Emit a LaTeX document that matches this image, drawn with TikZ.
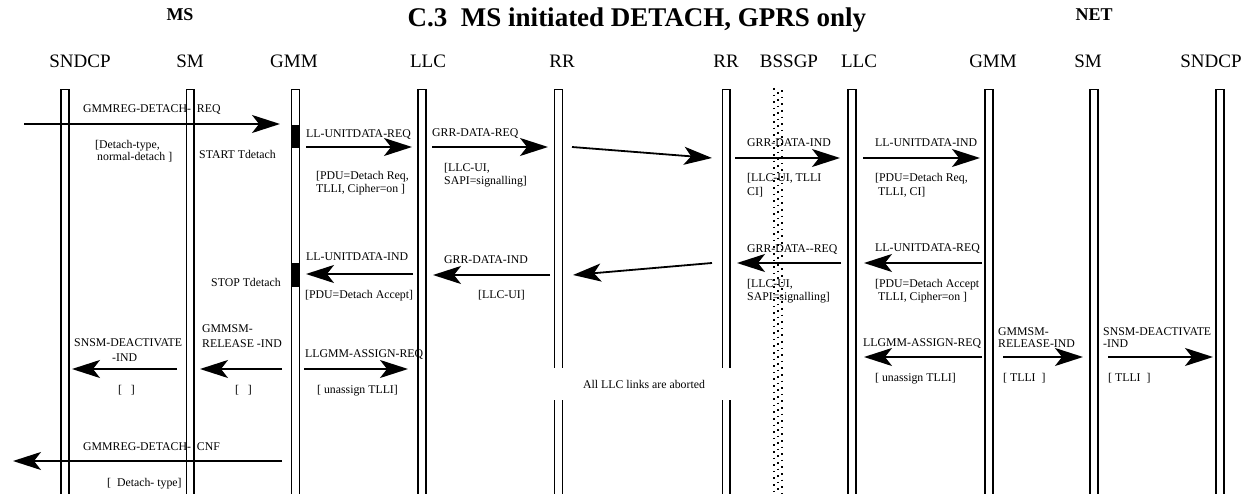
\documentclass[tikz,border=0pt]{standalone}
\usepackage{fontspec}
\setmainfont{Liberation Serif}
\usetikzlibrary{arrows.meta}
\begin{document}
\begin{tikzpicture}[x=1pt,y=-1pt,
  lifebox/.style={line width=1.5pt},
  msg/.style={line width=1.8pt,-{Stealth[length=28pt,width=18pt,inset=7pt]}},
  lbl/.style={font=\fontsize{11.8}{13}\selectfont,inner sep=0pt,anchor=base west},
  hdr/.style={font=\fontsize{19}{22}\selectfont,inner sep=0pt,anchor=base},
  ttl/.style={font=\bfseries\fontsize{27}{30}\selectfont,inner sep=0pt,anchor=base},
  side/.style={font=\bfseries\fontsize{18}{20}\selectfont,inner sep=0pt,anchor=base},
  timer/.style={fill=black,draw=none,minimum width=9pt,inner sep=0pt},
  bss/.style={line width=1.6pt,dash pattern=on 1.6pt off 5pt}]
\useasboundingbox (0,0) rectangle (1245,494);

% titles
\node[ttl] (title) at (637,27) {C.3\ \ MS initiated DETACH, GPRS only};
\node[side] (ms) at (180,21) {MS};
\node[side] (net) at (1094,21) {NET};

% headers
\node[hdr] (hSNDCPa) at (80,68) {SNDCP};
\node[hdr] (hSMa) at (190,68) {SM};
\node[hdr] (hGMMa) at (294,68) {GMM};
\node[hdr] (hLLCa) at (428,68) {LLC};
\node[hdr] (hRRa) at (562,68) {RR};
\node[hdr] (hRRb) at (726,68) {RR};
\node[hdr] (hBSSGP) at (789,68) {BSSGP};
\node[hdr] (hLLCb) at (859,68) {LLC};
\node[hdr] (hGMMb) at (993,68) {GMM};
\node[hdr] (hSMb) at (1088,68) {SM};
\node[hdr] (hSNDCPb) at (1211,68) {SNDCP};

% lifelines
\foreach \n/\x in {sndcpA/65,smA/190.3,gmmA/295.5,llcA/422,rrA/558.5,rrB/726.3,llcB/852,gmmB/989,smB/1094,sndcpB/1220} {
  \coordinate (\n) at (\x,89.75);
  \draw[lifebox] ({\x-3.8},494) -- ({\x-3.8},89.75) -- ({\x+3.8},89.75) -- ({\x+3.8},494);
}

% BSSGP dotted boundary
\draw[bss] (774,88) -- (774,494);
\draw[bss,dash phase=2.2pt] (778,88) -- (778,494);
\draw[bss,dash phase=4.4pt] (782,88) -- (782,494);

% timers
\node[timer,minimum height=23pt] (t1) at (295.5,136.5) {};
\node[timer,minimum height=24pt] (t2) at (295.5,275) {};

% ---- arrows
\coordinate (a1s) at (24,124);   \coordinate (a1e) at (280,124);
\coordinate (a2s) at (306,147);  \coordinate (a2e) at (412,147);
\coordinate (a3s) at (432,147);  \coordinate (a3e) at (548,147);
\coordinate (a4s) at (572,147);  \coordinate (a4e) at (712,158);
\coordinate (a5s) at (735,158);  \coordinate (a5e) at (840,158);
\coordinate (a6s) at (863,158);  \coordinate (a6e) at (980,158);
\coordinate (a7s) at (982,263);  \coordinate (a7e) at (864,263);
\coordinate (a8s) at (841,263);  \coordinate (a8e) at (737,263);
\coordinate (a9s) at (712,263);  \coordinate (a9e) at (573,275);
\coordinate (a10s) at (550,275); \coordinate (a10e) at (433,275);
\coordinate (a11s) at (413,274); \coordinate (a11e) at (306,274);
\coordinate (a12s) at (177,369); \coordinate (a12e) at (72,369);
\coordinate (a13s) at (282,369); \coordinate (a13e) at (200,369);
\coordinate (a14s) at (304,369); \coordinate (a14e) at (408,369);
\coordinate (a15s) at (982,357); \coordinate (a15e) at (864,357);
\coordinate (a16s) at (1003,357); \coordinate (a16e) at (1083,357);
\coordinate (a17s) at (1108,357); \coordinate (a17e) at (1213,357);
\coordinate (a18s) at (282,461); \coordinate (a18e) at (13,461);
\foreach \i in {1,...,18} { \draw[msg] (a\i s) -- (a\i e); }

% ---- labels row 1
\node[lbl] (l1) at (83,113) {GMMREG-DETACH-\ \ REQ};
\node[lbl] (l2) at (95,149) {[Detach-type,};
\node[lbl] (l3) at (97,161) {normal-detach ]};
\node[lbl] (l4) at (199,159) {START Tdetach};
\node[lbl] (l5) at (306,138) {LL-UNITDATA-REQ};
\node[lbl] (l6) at (316,180) {[PDU=Detach Req,};
\node[lbl] (l7) at (316,193) {TLLI, Cipher=on ]};
\node[lbl] (l8) at (432,137) {GRR-DATA-REQ};
\node[lbl] (l9) at (444,172) {[LLC-UI,};
\node[lbl] (l10) at (444,185) {SAPI=signalling]};
\node[lbl] (l11) at (747,147) {GRR-DATA-IND};
\node[lbl] (l12) at (747,182) {[LLC-UI, TLLI};
\node[lbl] (l13) at (747,196) {CI]};
\node[lbl] (l14) at (875,147) {LL-UNITDATA-IND};
\node[lbl] (l15) at (875,182) {[PDU=Detach Req,};
\node[lbl] (l16) at (878,196) {TLLI, CI]};

% ---- labels row 2
\node[lbl] (l17) at (875,252) {LL-UNITDATA-REQ};
\node[lbl] (l18) at (875,288) {[PDU=Detach Accept};
\node[lbl] (l19) at (878,301) {TLLI, Cipher=on ]};
\node[lbl] (l20) at (747,253) {GRR-DATA-{}-REQ};
\node[lbl] (l21) at (747,288) {[LLC-UI,};
\node[lbl] (l22) at (747,301) {SAPI=signalling]};
\node[lbl] (l23) at (444,264) {GRR-DATA-IND};
\node[lbl] (l24) at (478,299) {[LLC-UI]};
\node[lbl] (l25) at (306,261) {LL-UNITDATA-IND};
\node[lbl] (l26) at (305,299) {[PDU=Detach Accept]};
\node[lbl] (l27) at (211,287) {STOP Tdetach};

% ---- labels row 3
\node[lbl] (l28) at (74,346) {SNSM-DEACTIVATE};
\node[lbl] (l29) at (112,361) {-IND};
\node[lbl] (l30) at (118,393) {[\ \ \ ]};
\node[lbl] (l31) at (202,333) {GMMSM-};
\node[lbl] (l32) at (202,348) {RELEASE -IND};
\node[lbl] (l33) at (235,393) {[\ \ \ ]};
\node[lbl] (l34) at (305,357) {LLGMM-ASSIGN-REQ};
\node[lbl] (l35) at (317,393) {[ unassign TLLI]};
\node[font=\fontsize{11.8}{13}\selectfont,fill=white,minimum width=186pt,minimum height=32pt,inner sep=0pt] (abort) at (644,384) {All LLC links are aborted};
\node[lbl] (l37) at (863,346) {LLGMM-ASSIGN-REQ};
\node[lbl] (l38) at (875,381) {[ unassign TLLI]};
\node[lbl] (l39) at (998,335) {GMMSM-};
\node[lbl] (l40) at (998,348) {RELEASE-IND};
\node[lbl] (l41) at (1003,381) {[ TLLI\ \ ]};
\node[lbl] (l42) at (1103,335) {SNSM-DEACTIVATE};
\node[lbl] (l43) at (1103,348) {-IND};
\node[lbl] (l44) at (1108,381) {[ TLLI\ \ ]};

% ---- row 4
\node[lbl] (l45) at (83,450) {GMMREG-DETACH-\ \ CNF};
\node[lbl] (l46) at (107,486) {[\ \ Detach- type]};
\end{tikzpicture}
\end{document}
